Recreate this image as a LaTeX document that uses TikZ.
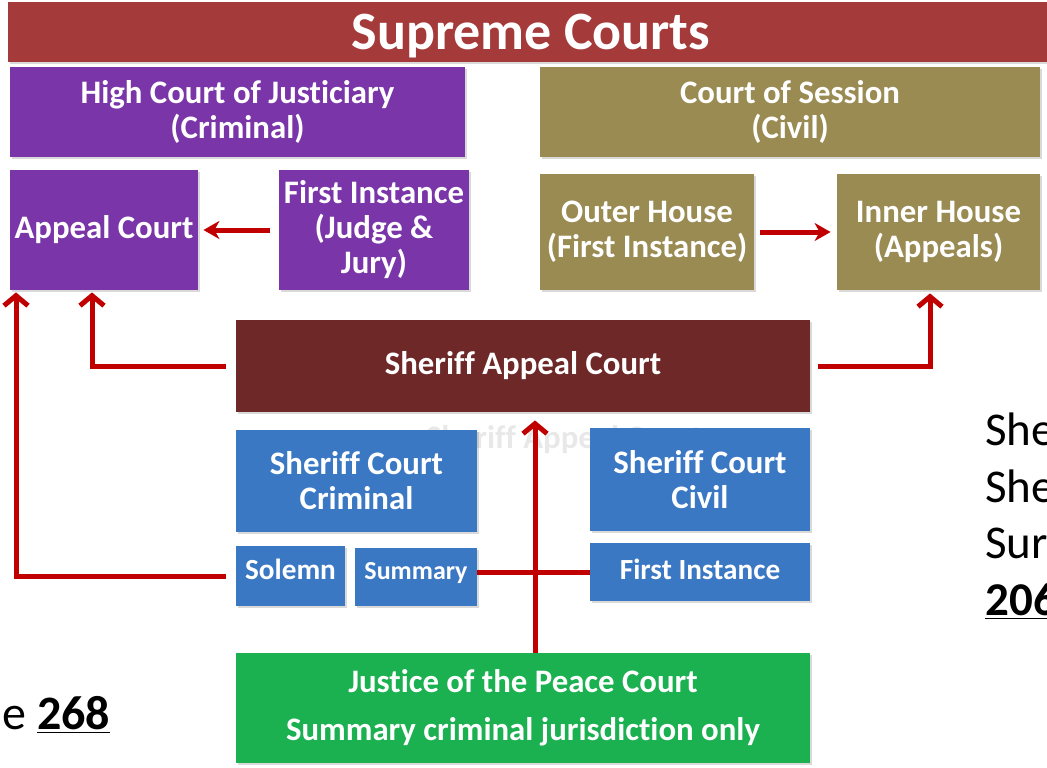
\documentclass[tikz,border=0pt]{standalone}
\usepackage{fontspec}
\setmainfont{Carlito}[Ligatures=NoCommon]
\usetikzlibrary{arrows.meta,shadows}

\definecolor{supremered}{RGB}{164,58,57}
\definecolor{crimpurple}{RGB}{122,54,168}
\definecolor{civilolive}{RGB}{154,139,83}
\definecolor{sheriffmaroon}{RGB}{110,40,40}
\definecolor{sheriffblue}{RGB}{59,120,196}
\definecolor{peacegreen}{RGB}{27,176,80}
\definecolor{linkred}{RGB}{192,0,0}

\tikzset{
  court/.style={rectangle,inner sep=0pt,align=center,text=white,
    font=\bfseries\fontsize{16.4}{17.5}\selectfont,
    drop shadow={shadow xshift=0.8pt,shadow yshift=-0.8pt,opacity=0.3}},
  smallcourt/.style={court,font=\bfseries\fontsize{14.6}{16}\selectfont},
  link/.style={draw=linkred,line width=2.5pt},
  uplink/.style={link,-{Straight Barb[length=5pt,width=12pt]}},
  sidelink/.style={link,-{Stealth[length=8pt,width=9pt,inset=2.5pt]}},
}

\begin{document}
\begin{tikzpicture}[x=0.5pt,y=-0.5pt]
        \useasboundingbox (0,0) rectangle (1047,767);

        \coordinate (S)  at (531,32);
        \coordinate (H)  at (237.5,112);
        \coordinate (CS) at (790,112);
        \coordinate (AC) at (104,230);
        \coordinate (FJ) at (374,230);
        \coordinate (OH) at (647,232);
        \coordinate (IH) at (938.5,232);
        \coordinate (SA) at (523,366);
        \coordinate (SC) at (356.5,481);
        \coordinate (SV) at (700,479.5);
        \coordinate (SO) at (290.5,576);
        \coordinate (SU) at (416,577);
        \coordinate (FI) at (700,572);
        \coordinate (JP) at (523,708);

        % faint text behind the sheriff courts
        \node[text=black!9,font=\bfseries\fontsize{16.4}{17.5}\selectfont] (ghost) at (564,440) {Sheriff Appeal Court};

        \node[court,fill=supremered,minimum width=523pt,minimum height=30pt,text depth=0pt,font=\bfseries\fontsize{27}{30}\selectfont] (supreme) at (S) {Supreme Courts};
        \node[court,fill=crimpurple,minimum width=227.5pt,minimum height=45pt] (justiciary) at (H) {High Court of Justiciary\\(Criminal)};
        \node[court,fill=civilolive,minimum width=250pt,minimum height=45pt]   (session)    at (CS) {Court of Session\\(Civil)};
        \node[court,fill=crimpurple,minimum width=94pt,minimum height=60pt]    (appeal)     at (AC) {Appeal Court};
        \node[court,fill=crimpurple,minimum width=95pt,minimum height=60pt]    (firstjj)    at (FJ) {First Instance\\(Judge \&\\Jury)};
        \node[court,fill=civilolive,minimum width=107pt,minimum height=58pt]   (outer)      at (OH) {Outer House\\(First Instance)};
        \node[court,fill=civilolive,minimum width=101.5pt,minimum height=58pt] (inner)      at (IH) {Inner House\\(Appeals)};
        \node[court,fill=sheriffmaroon,minimum width=287pt,minimum height=46pt] (sac)       at (SA) {Sheriff Appeal Court};
        \node[court,fill=sheriffblue,minimum width=120.5pt,minimum height=51pt] (crimsc)    at (SC) {Sheriff Court\\Criminal};
        \node[court,fill=sheriffblue,minimum width=110pt,minimum height=51.5pt] (civsc)     at (SV) {Sheriff Court\\Civil};
        \node[smallcourt,fill=sheriffblue,minimum width=54.5pt,minimum height=30pt,text depth=7pt] (solemn) at (SO) {Solemn};
        \node[smallcourt,fill=sheriffblue,minimum width=61pt,minimum height=29pt,text depth=6pt,font=\bfseries\fontsize{13}{15}\selectfont] (summary) at (SU) {Summary};
        \node[smallcourt,fill=sheriffblue,minimum width=110pt,minimum height=29pt,text depth=3pt] (firstciv) at (FI) {First Instance};
        \node[court,fill=peacegreen,minimum width=287pt,minimum height=55pt,font=\bfseries\fontsize{16.4}{24}\selectfont] (peace) at (JP) {Justice of the Peace Court\\Summary criminal jurisdiction only};

        \draw[sidelink,shorten <=4.5pt,shorten >=2.5pt] (firstjj.west) -- (appeal.east);
        \draw[sidelink,shorten <=3pt,shorten >=3pt]     (outer.east) -- (inner.west);
        \draw[uplink,shorten <=5pt,shorten >=1pt]       (sac.west) -| ([xshift=-6pt]appeal.south);
        \draw[uplink,shorten <=4pt,shorten >=1.5pt]     (sac.east) -| ([xshift=-4.25pt]inner.south);
        \draw[uplink,shorten <=5pt,shorten >=1pt]       (solemn.west) -| ([xshift=-44pt]appeal.south);
        \draw[uplink,shorten >=4pt]                     ([xshift=6pt]peace.north) -- ([xshift=6pt]sac.south);
        \draw[link]                                     (summary.east |- firstciv.west) -- (firstciv.west);

        % cut-off side text
        \node[anchor=base west,inner sep=0pt,font=\fontsize{24}{28}\selectfont] (pageleft) at (2,729) {e \underline{\textbf{268}}};
        \node[anchor=base west,inner sep=0pt,font=\fontsize{23.5}{28}\selectfont] (side1) at (985,445) {She};
        \node[anchor=base west,inner sep=0pt,font=\fontsize{23.5}{28}\selectfont] (side2) at (985,502) {She};
        \node[anchor=base west,inner sep=0pt,font=\fontsize{23.5}{28}\selectfont] (side3) at (985,558) {Sur};
        \node[anchor=base west,inner sep=0pt,font=\fontsize{23.5}{28}\selectfont] (side4) at (985,615) {\underline{\textbf{206}}};
    \end{tikzpicture}
\end{document}
